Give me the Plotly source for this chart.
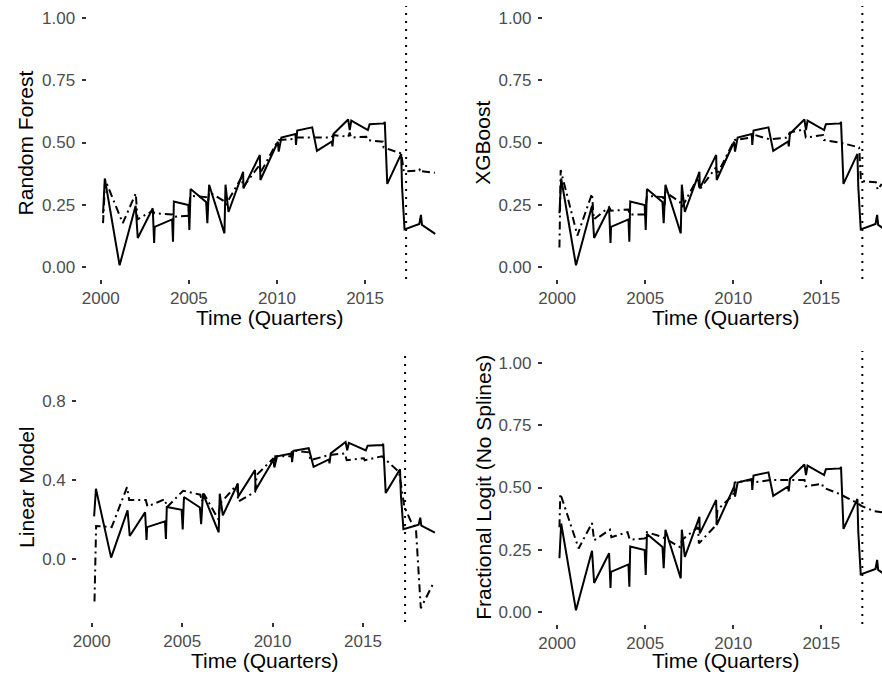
import plotly.graph_objects as go

# ---------------- data ----------------
actual_x = [2000.13, 2000.23, 2001.07, 2001.98, 2002.10, 2002.95, 2003.03, 2003.06, 2004.05, 2004.10,
            2004.15, 2004.97, 2005.03, 2005.10, 2005.98, 2006.05, 2006.15, 2007.02, 2007.08, 2007.25,
            2008.08, 2008.10, 2009.03, 2009.06, 2010.05, 2010.10, 2010.25, 2011.05, 2011.08, 2011.15,
            2012.00, 2012.27, 2013.12, 2013.15, 2013.22, 2014.04, 2014.13, 2014.22, 2015.16, 2015.26,
            2016.07, 2016.12, 2016.26, 2017.05, 2017.10, 2017.24, 2018.08, 2018.17, 2018.23, 2018.98]
actual_y = [0.215, 0.355, 0.005, 0.245, 0.115, 0.235, 0.095, 0.160, 0.190, 0.100,
            0.262, 0.248, 0.148, 0.313, 0.260, 0.175, 0.330, 0.134, 0.330, 0.220,
            0.382, 0.315, 0.450, 0.349, 0.503, 0.463, 0.520, 0.534, 0.490, 0.548,
            0.561, 0.466, 0.504, 0.484, 0.535, 0.593, 0.550, 0.588, 0.550, 0.574,
            0.577, 0.583, 0.333, 0.454, 0.322, 0.150, 0.172, 0.208, 0.168, 0.132]

rf_x = [2000.13, 2000.25, 2001.25, 2001.99, 2002.08, 2002.95, 2003.05, 2004.05, 2004.10, 2004.97,
        2005.08, 2005.97, 2006.07, 2006.15, 2006.97, 2007.10, 2008.00, 2008.08, 2009.02, 2009.08,
        2010.00, 2010.10, 2011.05, 2011.10, 2012.05, 2013.10, 2013.20, 2014.04, 2014.13, 2014.20,
        2015.07, 2015.12, 2016.01, 2016.05, 2017.05, 2017.20, 2018.08, 2018.12, 2018.16, 2018.96]
rf_y = [0.175, 0.350, 0.175, 0.295, 0.190, 0.225, 0.215, 0.210, 0.200, 0.205,
        0.285, 0.280, 0.250, 0.300, 0.265, 0.250, 0.360, 0.320, 0.410, 0.380,
        0.500, 0.510, 0.515, 0.520, 0.520, 0.520, 0.530, 0.523, 0.540, 0.520,
        0.523, 0.510, 0.503, 0.480, 0.456, 0.383, 0.387, 0.395, 0.385, 0.378]

xgb_x = [2000.13, 2000.20, 2001.15, 2001.98, 2002.08, 2002.95, 2003.05, 2004.05, 2004.10, 2004.97,
         2005.10, 2006.02, 2006.10, 2006.15, 2006.97, 2007.10, 2008.00, 2008.08, 2009.02, 2009.08,
         2010.00, 2010.10, 2011.05, 2011.10, 2012.05, 2013.10, 2013.20, 2014.04, 2014.12, 2015.10,
         2015.15, 2016.05, 2017.15, 2017.25, 2018.10, 2018.20, 2018.40, 2018.96]
xgb_y = [0.077, 0.389, 0.125, 0.294, 0.190, 0.240, 0.225, 0.230, 0.210, 0.210,
         0.285, 0.280, 0.240, 0.300, 0.260, 0.240, 0.360, 0.310, 0.400, 0.370,
         0.500, 0.510, 0.520, 0.533, 0.513, 0.520, 0.540, 0.553, 0.520, 0.530,
         0.510, 0.500, 0.480, 0.345, 0.340, 0.310, 0.330, 0.330]

lm_x = [2000.15, 2000.24, 2001.10, 2001.95, 2002.07, 2002.99, 2003.08, 2004.05, 2004.15, 2005.05,
        2006.00, 2006.10, 2006.20, 2007.00, 2007.10, 2008.03, 2008.10, 2009.04, 2009.12, 2010.05,
        2010.10, 2010.15, 2011.02, 2011.08, 2012.00, 2012.10, 2013.05, 2014.00, 2014.10, 2015.05,
        2015.10, 2016.05, 2017.00, 2017.29, 2017.66, 2017.93, 2018.20, 2018.94]
lm_y = [-0.218, 0.166, 0.160, 0.363, 0.298, 0.298, 0.265, 0.302, 0.260, 0.345,
        0.325, 0.290, 0.330, 0.200, 0.280, 0.375, 0.290, 0.340, 0.425, 0.510,
        0.470, 0.520, 0.520, 0.550, 0.540, 0.500, 0.525, 0.535, 0.500, 0.510,
        0.500, 0.520, 0.440, 0.264, 0.188, 0.154, -0.252, -0.117]

fl_x = [2000.13, 2000.18, 2001.22, 2001.98, 2002.10, 2003.00, 2003.08, 2004.00, 2004.12, 2005.00,
        2005.10, 2006.00, 2006.97, 2007.10, 2008.00, 2008.05, 2009.05, 2009.10, 2010.00, 2010.08,
        2011.05, 2011.10, 2012.10, 2013.15, 2014.05, 2014.12, 2015.05, 2015.10, 2016.00, 2016.98,
        2017.30, 2018.00, 2018.96]
fl_y = [0.340, 0.475, 0.254, 0.357, 0.287, 0.330, 0.300, 0.320, 0.290, 0.295,
        0.320, 0.300, 0.260, 0.290, 0.340, 0.275, 0.350, 0.410, 0.470, 0.520,
        0.530, 0.520, 0.530, 0.530, 0.530, 0.505, 0.515, 0.500, 0.475, 0.440,
        0.425, 0.405, 0.395]

panel_titles = ["Random Forest", "XGBoost", "Linear Model", "Fractional Logit (No Splines)"]
pred_x = [rf_x, xgb_x, lm_x, fl_x]
pred_y = [rf_y, xgb_y, lm_y, fl_y]
cutoff = 2017.33
x_ticks = [2000, 2005, 2010, 2015]
y_ticks_prob = [0.0, 0.25, 0.5, 0.75, 1.0]
y_ticks_lm = [0.0, 0.4, 0.8]

# ---------------- layout geometry (pixels) ----------------
W, H = 882, 675
FONT = "Liberation Sans, Arial, Helvetica, sans-serif"

panels = [
    dict(x0=82, x1=441, xr=[1999.193, 2019.452], y0=6, y1=279, yr=[-0.05, 1.05], ticks=y_ticks_prob, fmt=".2f"),
    dict(x0=541, x1=882, xr=[1999.193, 2018.447], y0=6, y1=279, yr=[-0.05, 1.05], ticks=y_ticks_prob, fmt=".2f"),
    dict(x0=72.6, x1=441, xr=[1999.193, 2019.456], y0=351, y1=622, yr=[-0.322, 1.055], ticks=y_ticks_lm, fmt=".1f"),
    dict(x0=541, x1=882, xr=[1999.193, 2018.447], y0=351, y1=624, yr=[-0.05, 1.05], ticks=y_ticks_prob, fmt=".2f"),
]
xtitle_pos = [(266, 317), (724.5, 317), (261, 660), (725, 660.5)]
ytitle_pos = [(21, 142.5), (480, 142.5), (21, 487), (481, 487.5)]

fig = go.Figure()
layout = dict(width=W, height=H, margin=dict(l=0, r=0, t=0, b=0),
              paper_bgcolor="white", plot_bgcolor="white", showlegend=False,
              font=dict(family=FONT), shapes=[], annotations=[])

for i, p in enumerate(panels):
    n = "" if i == 0 else str(i + 1)
    xa, ya = "x" + n, "y" + n
    # actual (solid)
    fig.add_trace(go.Scatter(x=actual_x, y=actual_y, mode="lines", xaxis=xa, yaxis=ya,
                             line=dict(color="black", width=2), hoverinfo="skip"))
    # prediction (dot-dash)
    fig.add_trace(go.Scatter(x=pred_x[i], y=pred_y[i], mode="lines", xaxis=xa, yaxis=ya,
                             line=dict(color="black", width=2, dash="8px,4px,2px,4px"), hoverinfo="skip"))
    common = dict(showgrid=False, zeroline=False, showline=False, ticks="outside", ticklen=4,
                  tickwidth=1.6, tickcolor="#333333",
                  tickfont=dict(family=FONT, size=17, color="#4D4D4D"))
    layout["xaxis" + n] = dict(domain=[p["x0"] / W, p["x1"] / W], range=p["xr"], anchor=ya,
                               tickvals=x_ticks, ticktext=[str(t) for t in x_ticks], **common)
    layout["yaxis" + n] = dict(domain=[1 - p["y1"] / H, 1 - p["y0"] / H], range=p["yr"], anchor=xa,
                               tickvals=p["ticks"], tickformat=p["fmt"], ticklabelstandoff=3, **common)
    layout["shapes"].append(dict(type="line", xref=xa, yref=ya + " domain", x0=cutoff, x1=cutoff,
                                 y0=0, y1=1, line=dict(color="black", width=2, dash="2px,6px")))
    tx, ty = xtitle_pos[i]
    layout["annotations"].append(dict(text="Time (Quarters)", xref="paper", yref="paper",
                                      x=tx / W, y=1 - ty / H, xanchor="center", yanchor="middle",
                                      showarrow=False, font=dict(family=FONT, size=21, color="black")))
    yx, yy = ytitle_pos[i]
    layout["annotations"].append(dict(text=panel_titles[i], xref="paper", yref="paper",
                                      x=yx / W, y=1 - yy / H, xanchor="center", yanchor="middle",
                                      textangle=-90, showarrow=False,
                                      font=dict(family=FONT, size=21, color="black")))

fig.update_layout(**layout)
fig.write_html("out.html")
